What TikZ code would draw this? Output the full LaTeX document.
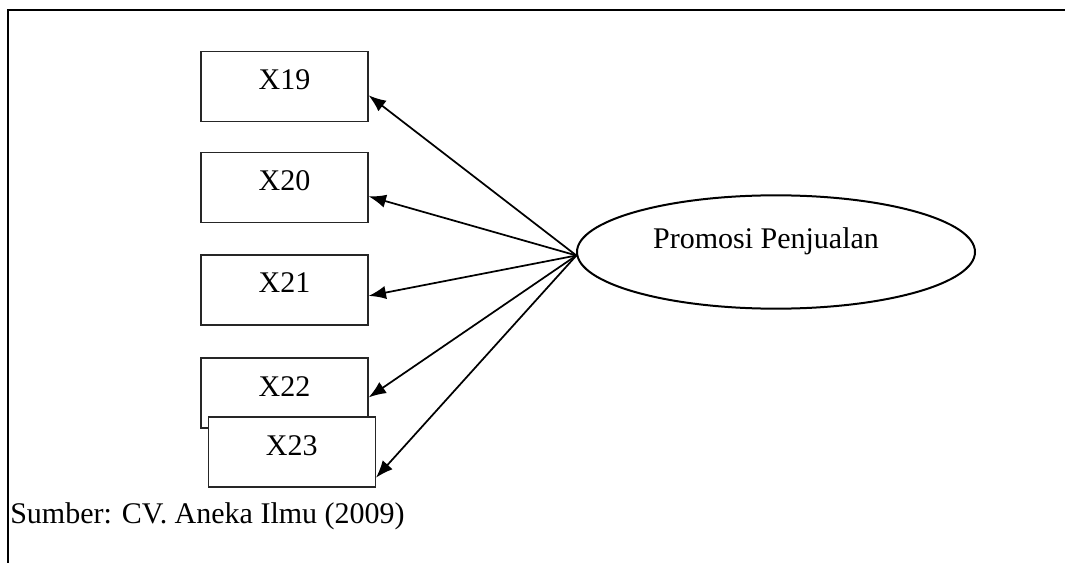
\documentclass[tikz,border=0pt]{standalone}
\usepackage{fontspec}
\setmainfont{Liberation Serif}
\usetikzlibrary{shapes.geometric,arrows.meta}
\begin{document}
\begin{tikzpicture}[x=0.75pt,y=-0.75pt,
  every node/.style={font=\fontsize{22.5}{27}\selectfont},
  itembox/.style={draw=black!85, line width=1pt, fill=white, rectangle, inner sep=0pt,
    minimum width=125.25pt, minimum height=52.5pt, text height=15pt, text depth=10.5pt},
  latent/.style={draw, line width=1.5pt, ellipse, inner sep=0pt, minimum width=298.5pt, minimum height=85pt},
  link/.style={line width=1.3pt, -{Latex[length=13pt,width=10pt]}}]
\useasboundingbox (0,0) rectangle (1065,563);
\fill[white] (0,0) rectangle (1065,563);
\draw[line width=1.8pt] (8,563) -- (8,10) -- (1065,10);
\node[itembox] (x19) at (284.5,86.5) {X19};
\node[itembox] (x20) at (284.5,187.5) {X20};
\node[itembox] (x21) at (284.5,290) {X21};
\node[itembox] (x22) at (284.5,393) {X22};
\node[itembox] (x23) at (291.8,452) {X23};
\node[latent] (pp) at (776,252) {};
\node (pptext) at (766,241) {Promosi Penjualan};
\draw[link] (pp.181.5) -- (x19.-6);
\draw[link] (pp.181.5) -- (x20.-6.5);
\draw[link] (pp.181.5) -- (x21.-4);
\draw[link] (pp.181.5) -- (x22.-3.4);
\draw[link] (pp.181.5) -- (x23.-17);
\node[anchor=base west, inner sep=0pt] (src) at (10,523) {Sumber: CV. Aneka Ilmu (2009)};
\end{tikzpicture}
\end{document}
